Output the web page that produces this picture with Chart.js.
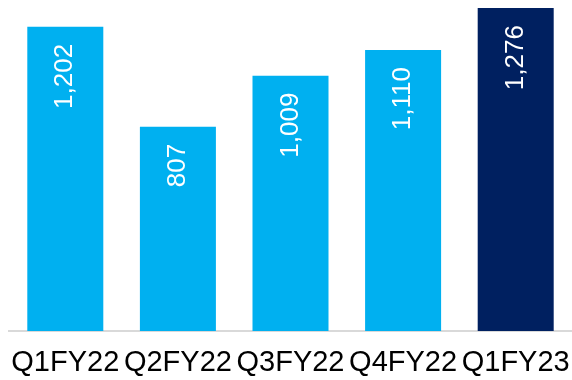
<!DOCTYPE html>
<html>
<head>
<meta charset="utf-8">
<script src="https://cdn.jsdelivr.net/npm/chart.js@4/dist/chart.umd.min.js"></script>
<style>
html,body{margin:0;padding:0;background:#fff;}
#wrap{width:572px;height:380px;position:relative;}
</style>
</head>
<body>
<div id="wrap"><canvas id="c" width="572" height="380"></canvas></div>
<script>
const categories = ["Q1FY22", "Q2FY22", "Q3FY22", "Q4FY22", "Q1FY23"];
const values = [1202, 807, 1009, 1110, 1276];
const valueLabels = ["1,202", "807", "1,009", "1,110", "1,276"];
const barColors = ["#00B0F0", "#00B0F0", "#00B0F0", "#00B0F0", "#002060"];

const insideLabels = {
  id: 'insideLabels',
  afterDatasetsDraw(chart) {
    const ctx = chart.ctx;
    const meta = chart.getDatasetMeta(0);
    ctx.save();
    ctx.fillStyle = '#ffffff';
    ctx.font = '26px "Liberation Sans", Arial, sans-serif';
    ctx.textAlign = 'right';
    ctx.textBaseline = 'middle';
    meta.data.forEach((bar, i) => {
      ctx.save();
      ctx.translate(bar.x, bar.y + 17);
      ctx.rotate(-Math.PI / 2);
      ctx.fillText(valueLabels[i], 0, 0);
      ctx.restore();
    });
    ctx.restore();
  }
};

new Chart(document.getElementById('c'), {
  type: 'bar',
  data: {
    labels: categories,
    datasets: [{
      data: values,
      backgroundColor: barColors,
      borderWidth: 0,
      categoryPercentage: 1,
      barPercentage: 0.675
    }]
  },
  options: {
    responsive: false,
    animation: false,
    devicePixelRatio: 1,
    layout: { padding: { left: 9, right: 0, top: 0, bottom: 0 } },
    plugins: { legend: { display: false }, tooltip: { enabled: false } },
    scales: {
      x: {
        grid: { display: false, drawTicks: false },
        border: { display: true, color: '#d9d9d9', width: 2 },
        ticks: {
          color: '#000000',
          padding: 15,
          maxRotation: 0,
          autoSkip: false,
          font: { family: '"Liberation Sans", Arial, sans-serif', size: 29 }
        },
        afterFit(scale) {
          scale.paddingLeft = 0;
          scale.paddingRight = 0;
          scale.height = 49;
        }
      },
      y: {
        display: false,
        min: 0,
        max: 1308
      }
    }
  },
  plugins: [insideLabels]
});
</script>
</body>
</html>
